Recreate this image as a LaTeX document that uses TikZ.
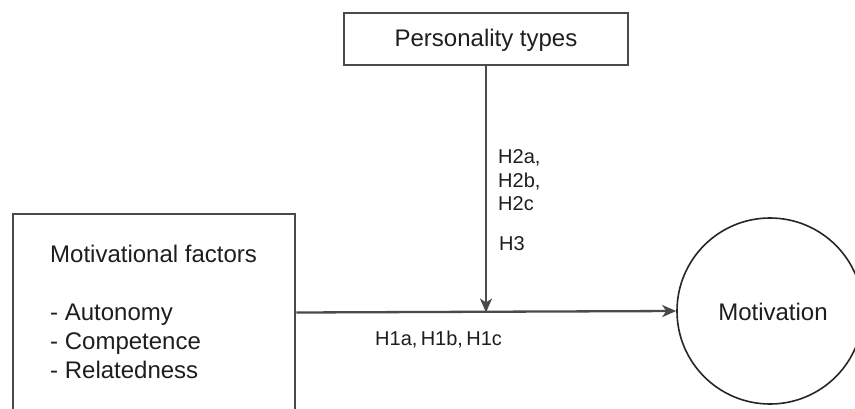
\documentclass[tikz,border=0pt]{standalone}
\usepackage{fontspec}
\setmainfont{Liberation Sans}
\usetikzlibrary{arrows.meta}
\definecolor{linegray}{HTML}{4A4A4A}
\definecolor{textgray}{HTML}{1E1E1E}
\tikzset{
  boxline/.style={draw=linegray, line width=2.3pt},
  conn/.style={draw=linegray, line width=2.3pt, -{Stealth[length=14pt,width=12pt,inset=4pt]}},
  maintext/.style={font=\fontsize{24}{29}\selectfont, text=textgray, inner sep=0pt},
  labeltext/.style={font=\fontsize{20}{23.5}\selectfont, text=textgray, inner sep=0pt},
}
\begin{document}
\begin{tikzpicture}[x=1pt,y=-1pt]
\useasboundingbox (0,0) rectangle (855,408);
\clip (0,0) rectangle (855,408);
\fill[white] (0,0) rectangle (855,408);
% boxes
\node[boxline, rectangle, minimum width=284pt, minimum height=52pt, inner sep=0pt] (pt) at (486,39) {};
\node[maintext, anchor=center] (pttext) at (486,40) {Personality types};
\node[boxline, rectangle, minimum width=282pt, minimum height=220pt, inner sep=0pt, anchor=north west] (mf) at (12,213) {};
\node[maintext, anchor=base west, align=left] (mftext) at (50,262) {Motivational factors};
\node[maintext, anchor=base west] (mfa) at (50,320) {- Autonomy};
\node[maintext, anchor=base west] (mfc) at (50,349) {- Competence};
\node[maintext, anchor=base west] (mfr) at (50,378) {- Relatedness};
\node[draw=black!85, line width=1.6pt, circle, minimum size=186pt, inner sep=0pt] (mot) at (770,311) {};
\node[maintext] (mottext) at (773,312) {Motivation};
% junction
\coordinate (j) at (pt.south |- 0,312.5);
\coordinate (mfe) at (mf.east |- 0,312.5);
\draw[conn] (mfe) -- (mot.west);
\draw[conn] (pt.south) -- (j);
% labels
\node[labeltext, anchor=base west] (h2a) at (498,163) {H2a,};
\node[labeltext, anchor=base west] (h2b) at (498,187) {H2b,};
\node[labeltext, anchor=base west] (h2c) at (498,210) {H2c};
\node[labeltext, anchor=base west] (h3) at (499,250) {H3};
\node[labeltext, anchor=base west] (h1) at (375,345) {H1a,\,H1b,\,H1c};
\end{tikzpicture}
\end{document}
